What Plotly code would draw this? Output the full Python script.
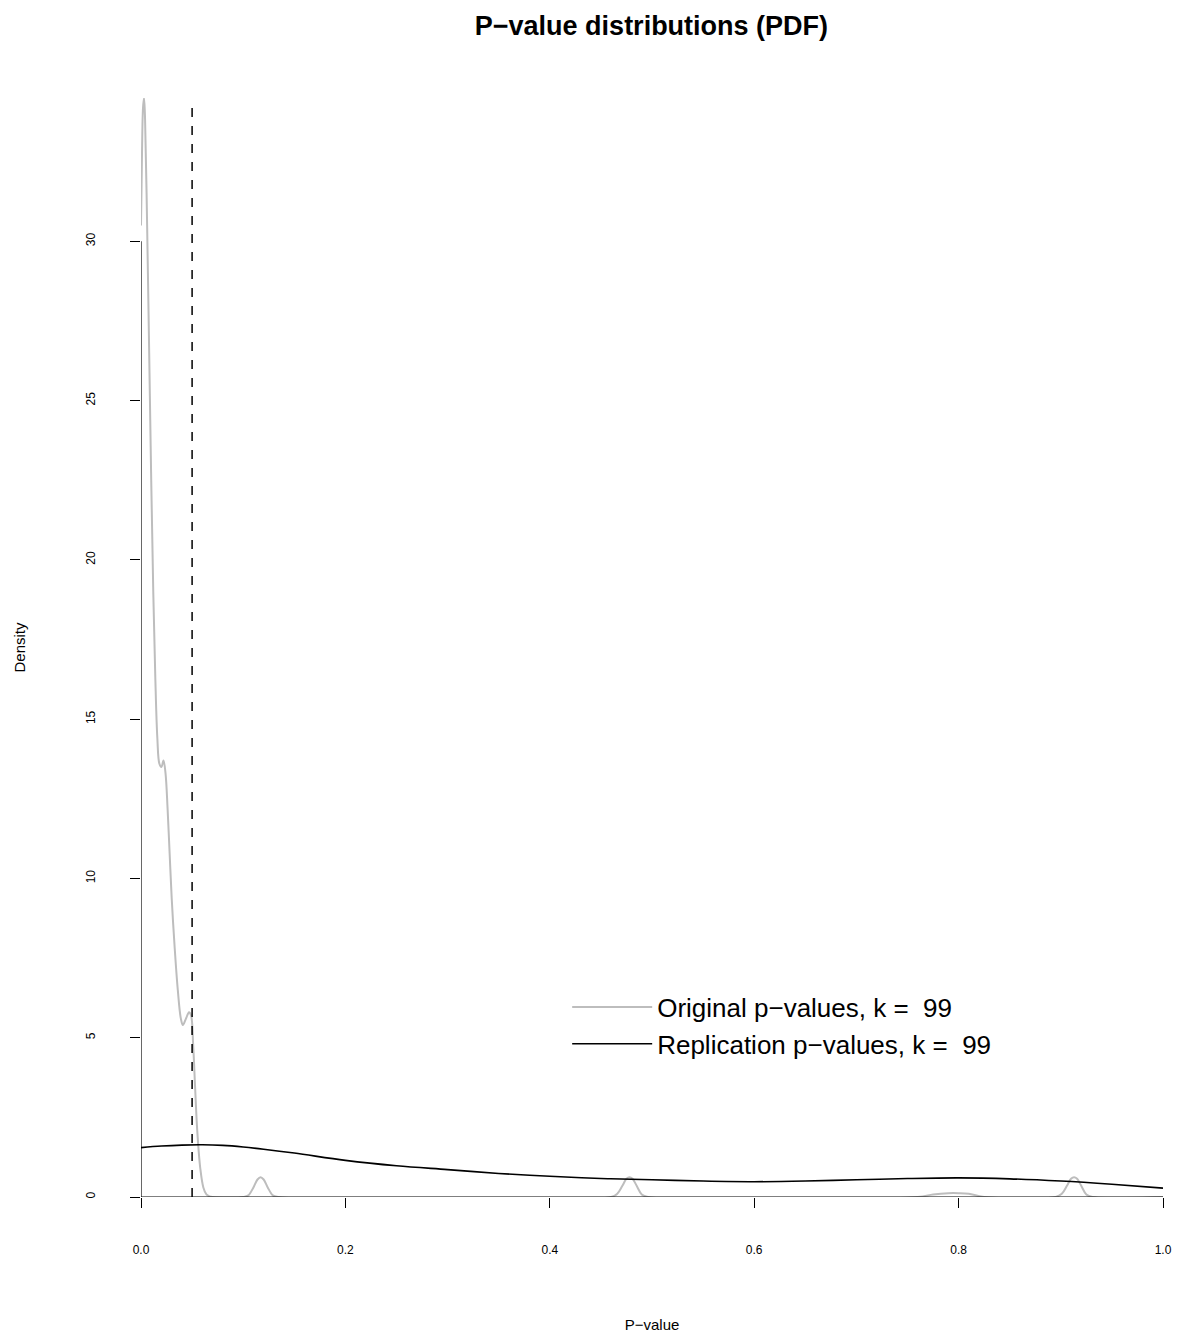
import plotly.graph_objects as go

# grey curve: original p-value density
orig_x = [0.0, 0.001, 0.002, 0.003, 0.004, 0.006, 0.008, 0.010, 0.012, 0.014, 0.016, 0.018,
          0.020, 0.022, 0.024, 0.026, 0.028, 0.030, 0.033, 0.036, 0.039, 0.041, 0.044,
          0.047, 0.049, 0.051, 0.053, 0.055, 0.058, 0.061, 0.064, 0.067, 0.070,
          0.100, 0.105, 0.110, 0.114, 0.117, 0.120, 0.124, 0.129, 0.134,
          0.460, 0.466, 0.471, 0.475, 0.478, 0.481, 0.485, 0.490, 0.496,
          0.760, 0.775, 0.790, 0.800, 0.810, 0.825,
          0.895, 0.901, 0.906, 0.910, 0.913, 0.916, 0.920, 0.925, 0.931, 1.0]
orig_y = [30.5, 32.8, 34.2, 34.5, 33.8, 30.5, 26.5, 22.5, 19.0, 16.3, 14.4, 13.6,
          13.5, 13.7, 13.3, 12.2, 10.8, 9.4, 7.8, 6.5, 5.6, 5.4, 5.6,
          5.8, 5.7, 4.8, 3.4, 2.1, 0.9, 0.3, 0.08, 0.02, 0.0,
          0.0, 0.05, 0.3, 0.55, 0.62, 0.55, 0.3, 0.05, 0.0,
          0.0, 0.1, 0.35, 0.57, 0.62, 0.57, 0.35, 0.08, 0.0,
          0.0, 0.08, 0.12, 0.12, 0.1, 0.0,
          0.0, 0.1, 0.35, 0.57, 0.62, 0.57, 0.35, 0.08, 0.0, 0.0]

# black curve: replication p-value density
rep_x = [0.0, 0.02, 0.04, 0.06, 0.08, 0.10, 0.12, 0.15, 0.20, 0.25, 0.30, 0.35, 0.40,
         0.45, 0.50, 0.55, 0.60, 0.65, 0.70, 0.75, 0.80, 0.85, 0.90, 0.95, 1.0]
rep_y = [1.55, 1.6, 1.63, 1.64, 1.62, 1.57, 1.5, 1.38, 1.15, 0.98, 0.86, 0.74, 0.65,
         0.58, 0.54, 0.5, 0.48, 0.5, 0.54, 0.58, 0.6, 0.57, 0.5, 0.4, 0.28]

x_ticks = [0.0, 0.2, 0.4, 0.6, 0.8, 1.0]
x_labels = ["0.0", "0.2", "0.4", "0.6", "0.8", "1.0"]
y_ticks = [0, 5, 10, 15, 20, 25, 30]
cutoff = 0.05

fig = go.Figure()
fig.add_trace(go.Scatter(x=orig_x, y=orig_y, mode="lines", line=dict(color="#bdbdbd", width=2, shape="spline"),
                         name="Original p\u2212values, k =  99", cliponaxis=False))
fig.add_trace(go.Scatter(x=rep_x, y=rep_y, mode="lines", line=dict(color="black", width=1.6, shape="spline"),
                         name="Replication p\u2212values, k =  99", cliponaxis=False))

# R-style axis lines spanning the ticks only
fig.add_shape(type="line", x0=0, x1=1, y0=0, y1=0, line=dict(color="black", width=1.2))
fig.add_shape(type="line", x0=0, x1=0, y0=0, y1=30, line=dict(color="black", width=1.2))
fig.add_shape(type="line", x0=cutoff, x1=cutoff, y0=0, y1=34.2, line=dict(color="black", width=1.5, dash="dash"))

fig.update_layout(
    width=1185, height=1339, plot_bgcolor="white", paper_bgcolor="white",
    margin=dict(l=126, r=30, t=90, b=150),
    font=dict(family="Liberation Sans, Arial", color="black"),
    title=dict(text="<b>P\u2212value distributions (PDF)</b>", x=0.543, xanchor="center",
               y=0.987, yanchor="middle", font=dict(size=27)),
    xaxis=dict(range=[0, 1], tickvals=x_ticks, ticktext=x_labels, ticks="outside", ticklen=10,
               tickcolor="black", showgrid=False, zeroline=False, showline=False,
               ticklabelstandoff=32, tickfont=dict(size=12),
               title=dict(text="P\u2212value", font=dict(size=15), standoff=63)),
    yaxis=dict(range=[0, 34.5], tickvals=y_ticks, ticks="outside", ticklen=10, tickangle=-90,
               tickcolor="black", showgrid=False, zeroline=False, showline=False,
               ticklabelstandoff=30, tickfont=dict(size=12),
               title=dict(text="Density", font=dict(size=15), standoff=54)),
    legend=dict(x=0.417, y=0.156, xanchor="left", yanchor="middle", bgcolor="rgba(0,0,0,0)",
                font=dict(size=26), itemwidth=80, tracegroupgap=0),
)

fig.write_html("out.html")
